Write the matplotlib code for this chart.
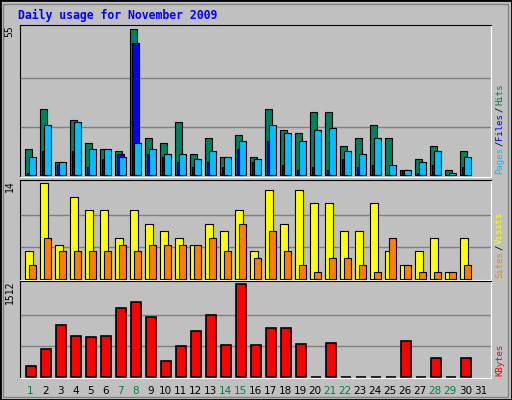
import matplotlib
matplotlib.use("Agg")
import matplotlib.pyplot as plt
from matplotlib.patches import Rectangle

days = list(range(1, 32))
weekend = [1, 7, 8, 14, 15, 21, 22, 28, 29]

hits = [10, 25, 5, 21, 12, 10, 9, 55, 14, 12, 20, 8, 14, 7, 15, 7, 25, 17, 16, 24,
        24, 11, 14, 19, 14, 2, 6, 11, 2, 9]
files = [1, 9, 4, 9, 3, 6, 8, 50, 8, 7, 5, 3, 5, 3, 10, 5, 13, 4, 2, 3,
         2, 6, 3, 4, 0, 2, 1, 4, 0, 3]
pages = [7, 19, 5, 20, 10, 10, 7, 12, 10, 8, 8, 6, 9, 7, 13, 6, 19, 16, 13, 17,
         18, 9, 8, 14, 4, 2, 5, 9, 1, 7]
visits = [4, 14, 5, 12, 10, 10, 6, 10, 8, 7, 6, 5, 8, 7, 10, 4, 13, 8, 13, 11,
          11, 7, 7, 11, 4, 2, 4, 6, 1, 6]
sites = [2, 6, 4, 4, 4, 4, 5, 4, 5, 5, 5, 5, 6, 4, 8, 3, 7, 4, 2, 1,
         3, 3, 2, 1, 6, 2, 1, 1, 1, 2]
kbytes = [171, 452, 850, 668, 651, 668, 1115, 1214, 966, 254, 502, 750, 999, 519, 1512,
          519, 800, 800, 535, 0, 552, 0, 0, 0, 0, 585, 0, 304, 0, 304]

W, H = 512, 400
BG = "#C0C0C0"
MONO = "DejaVu Sans Mono"
PX = 1 / 15.0  # one pixel in day units

fig = plt.figure(figsize=(W / 100, H / 100), dpi=100)
fig.patch.set_facecolor(BG)
fig.patches.append(Rectangle((0, 0), 1, 1, transform=fig.transFigure, fill=False,
                             edgecolor="black", linewidth=2))
fig.patches.append(Rectangle((3 / W, 3 / H), 1 - 7 / W, 1 - 7 / H, transform=fig.transFigure,
                             fill=False, edgecolor="#808080", linewidth=1))


def panel(top, bottom, ymax):
    ax = fig.add_axes([20 / W, 1 - bottom / H, 471 / W, (bottom - top) / H])
    ax.set_facecolor(BG)
    ax.set_xlim(0.647, 32.047)
    ax.set_ylim(-ymax * 0.012, ymax * 1.03)
    for y in (ymax / 3, 2 * ymax / 3):
        ax.axhline(y, color="#808080", linewidth=1, zorder=0)
    ax.set_xticks([])
    ax.set_yticks([])
    ax.spines["left"].set_color("black")
    ax.spines["top"].set_color("black")
    ax.spines["right"].set_color("white")
    ax.spines["bottom"].set_color("white")
    ax.text(-0.022, 1.0, str(ymax), transform=ax.transAxes, rotation=90, ha="center",
            va="top", fontsize=7, family=MONO)
    return ax


def right_label(ax, parts):
    # parts listed bottom to top as (text, colour)
    y = 0.02
    h = ax.get_position().height * H
    for txt, col in parts:
        ax.text(1.018, y, txt, transform=ax.transAxes, rotation=90, ha="center",
                va="bottom", fontsize=6.5, family=MONO, color=col)
        y += (len(txt) * 5.4 + 1) / h


x = days[:30]
ax1 = panel(25, 177, 55)
kw = dict(align="edge", edgecolor="black", linewidth=0.8)
ax1.bar(x, hits, width=7 * PX, color="#008060", **kw)
ax1.bar([d + 2 * PX for d in x], files, width=7 * PX, color="#0000FF", **kw)
ax1.bar([d + 4 * PX for d in x], pages, width=7 * PX, color="#00C0FF", **kw)
right_label(ax1, [("Pages", "#00C0FF"), ("/", "black"), ("Files", "#0000FF"),
                  ("/", "black"), ("Hits", "#008040")])

ax2 = panel(180, 280, 14)
ax2.bar(x, visits, width=8 * PX, color="#FFFF00", **kw)
ax2.bar([d + 4 * PX for d in x], sites, width=7 * PX, color="#FF8000", **kw)
right_label(ax2, [("Sites", "#FF8000"), ("/", "black"), ("Visits", "#FFFF00")])

ax3 = panel(281, 378, 1512)
ax3.bar([d + 1 * PX for d in x], kbytes, width=10 * PX, color="#FF0000",
        align="edge", edgecolor="black", linewidth=1.2)
right_label(ax3, [("KBytes", "#FF0000")])

for d in days:
    col = "#008040" if d in weekend else "black"
    ax3.text(d + 5 * PX, -0.13, str(d), transform=ax3.get_xaxis_transform(), ha="center",
             va="center", fontsize=7.5, color=col)

fig.text(18 / W, 1 - 15 / H, "Daily usage for November 2009", color="#0000FF",
         fontsize=8.3, weight="bold", family=MONO, va="center")

fig.savefig("out.png", dpi=100, facecolor=BG)
